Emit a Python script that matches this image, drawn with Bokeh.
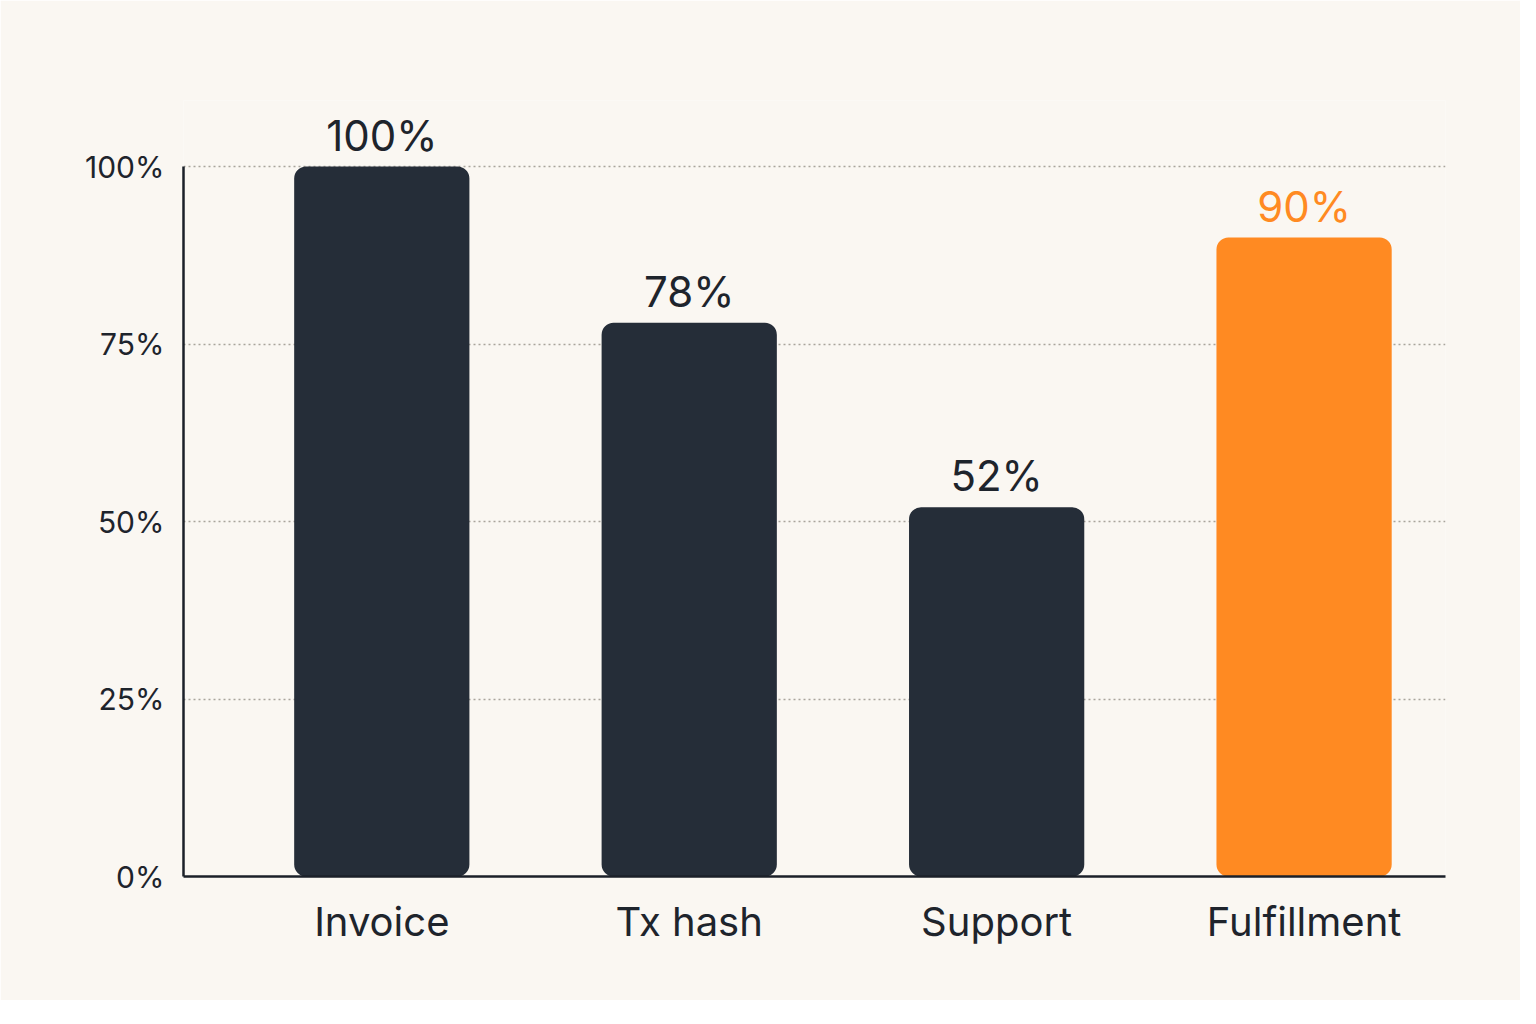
from bokeh.plotting import figure
from bokeh.models import Range1d, ColumnDataSource, FixedTicker
from bokeh.core.properties import value
from bokeh.embed import file_html
from bokeh.resources import INLINE

categories = ["Invoice", "Tx hash", "Support", "Fulfillment"]
values = [100, 78, 52, 90]
y_ticks = [0, 25, 50, 75, 100]
highlight = "Fulfillment"

BG = "#FAF7F2"
DARK = "#252D38"
ORANGE = "#FF8A22"
TEXT = "#1E242C"
FONT = "Inter"

xs = list(range(len(categories)))
colors = [ORANGE if c == highlight else DARK for c in categories]
label_colors = [ORANGE if c == highlight else TEXT for c in categories]
labels = [f"{v}%" for v in values]

src = ColumnDataSource(dict(x=xs, top=values, color=colors, lc=label_colors, label=labels))

p = figure(width=1520, height=1000, output_backend="svg", toolbar_location=None,
           x_range=Range1d(-0.645, 3.46), y_range=Range1d(0, 109.3),
           background_fill_color=BG, border_fill_color=BG, outline_line_color=None,
           min_border_left=183, min_border_right=75, min_border_top=100, min_border_bottom=124)

p.vbar(x="x", top="top", width=0.57, bottom=0, source=src, fill_color="color",
       line_color=None, border_radius=12)

p.text(x="x", y="top", text="label", source=src, text_color="lc",
       text_align="center", text_baseline="bottom", y_offset=-6,
       text_font=value(FONT), text_font_size="42px")

# axes
p.xaxis.ticker = FixedTicker(ticks=xs)
p.xaxis.major_label_overrides = {i: c for i, c in enumerate(categories)}
p.yaxis.ticker = FixedTicker(ticks=y_ticks)
p.yaxis.major_label_overrides = {t: f"{t}%" for t in y_ticks}
p.yaxis.bounds = (0, 100)

for ax in (p.xaxis, p.yaxis):
    ax.axis_line_color = "#1B2029"
    ax.axis_line_width = 2.5
    ax.major_tick_line_color = None
    ax.minor_tick_line_color = None
    ax.major_label_text_font = FONT
    ax.major_label_text_color = TEXT

p.xaxis.major_label_text_font_size = "40px"
p.xaxis.major_label_standoff = 14
p.yaxis.major_label_text_font_size = "30px"
p.yaxis.major_label_standoff = 13

p.xgrid.grid_line_color = None
p.ygrid.grid_line_color = "#A9A49C"
p.ygrid.grid_line_dash = "2 3"
p.ygrid.grid_line_width = 1.3

open("out.html", "w").write(file_html(p, INLINE))
